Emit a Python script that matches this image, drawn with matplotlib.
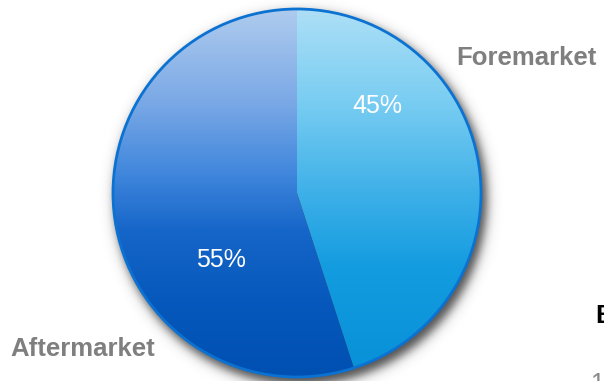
import numpy as np
import matplotlib
matplotlib.use("Agg")
import matplotlib.pyplot as plt
from matplotlib.colors import LinearSegmentedColormap
from matplotlib.patches import Circle

# Market split
categories = ["Foremarket", "Aftermarket"]
shares = [45, 55]

W, H = 604, 381
fig = plt.figure(figsize=(W / 100, H / 100), dpi=100)
ax = fig.add_axes([0, 0, 1, 1])

cx, cy_img, R = 297, 193, 184
cy = H - cy_img

# Soft drop shadow below and right of the disc
yy, xx = np.mgrid[0:H, 0:W]
d = np.hypot(xx + 0.5 - (cx + 4), (H - yy - 0.5) - (cy - 6))
alpha = 0.85 / (1 + np.exp((d - (R + 2)) / 3.2))
shadow = np.zeros((H, W, 4))
shadow[..., :3] = 0.18
shadow[..., 3] = alpha
ax.imshow(shadow, extent=(0, W, 0, H), origin="upper", zorder=0,
          interpolation="bilinear")

wedges, _ = ax.pie(shares, startangle=90, counterclock=False,
                   center=(cx, cy), radius=R,
                   wedgeprops=dict(linewidth=0, facecolor="none"))

fore_cmap = LinearSegmentedColormap.from_list("fore", [
    (0.0, "#addff6"), (0.25, "#79cdf2"), (0.5, "#3eb0e8"),
    (0.7, "#149ce0"), (1.0, "#0890d8")])
after_cmap = LinearSegmentedColormap.from_list("after", [
    (0.0, "#aecbee"), (0.25, "#7ba9e6"), (0.45, "#3f86dc"),
    (0.6, "#1666c9"), (0.8, "#0758bc"), (1.0, "#0050b2")])

grad = np.linspace(0, 1, 400)[:, None] * np.ones((1, 10))
for w, cmap in zip(wedges, [fore_cmap, after_cmap]):
    im = ax.imshow(grad, cmap=cmap, extent=(cx - R, cx + R, cy - R, cy + R),
                   origin="upper", aspect="auto", zorder=2,
                   interpolation="bilinear")
    im.set_clip_path(w)

ax.add_patch(Circle((cx, cy), R, facecolor="none", edgecolor="#0c72d2",
                    linewidth=2.0, zorder=3))

# Percentage labels
ax.text(377, H - 106, f"{shares[0]}%", color="white", fontsize=18,
        family="Liberation Sans", ha="center", va="center", zorder=4)
ax.text(221, H - 260, f"{shares[1]}%", color="white", fontsize=18,
        family="Liberation Sans", ha="center", va="center", zorder=4)

# Category labels
ax.text(456, H - 65, categories[0], color="#7f7f7f", fontsize=18.5,
        fontweight="bold", family="Liberation Sans", ha="left",
        va="baseline", zorder=4)
ax.text(10, H - 356, categories[1], color="#7f7f7f", fontsize=18.5,
        fontweight="bold", family="Liberation Sans", ha="left",
        va="baseline", zorder=4)

# Neighbouring content running in from the right edge
ax.text(595, H - 323, "E", color="black", fontsize=18.5, fontweight="bold",
        family="Liberation Sans", ha="left", va="baseline", zorder=4)
ax.text(590, H - 391, "1", color="#8a8a8a", fontsize=18,
        family="Liberation Sans", ha="left", va="baseline", zorder=4)

ax.set_xlim(0, W)
ax.set_ylim(0, H)
ax.set_aspect("auto")
ax.axis("off")

fig.savefig("out.png", dpi=100, facecolor="white")
